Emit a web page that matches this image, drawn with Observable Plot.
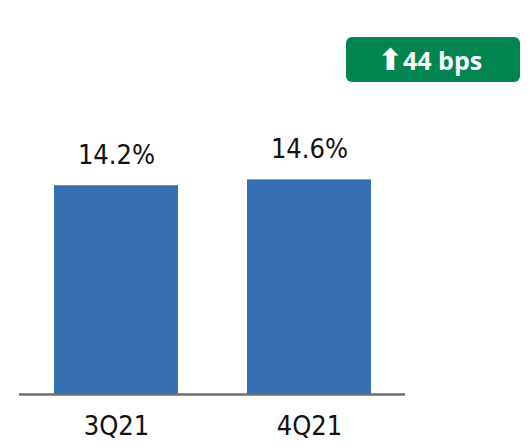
<!DOCTYPE html>
<html>
<head>
<meta charset="utf-8">
<script src="https://cdn.jsdelivr.net/npm/d3@7"></script>
<script src="https://cdn.jsdelivr.net/npm/@observablehq/plot@0.6"></script>
<style>
  html, body { margin: 0; padding: 0; background: #fff; }
  #wrap { position: relative; width: 530px; height: 448px; }
  #badge {
    position: absolute; left: 346px; top: 37px; width: 174px; height: 45px;
    background: #008450; border-radius: 6px; color: #fff;
    display: flex; align-items: center; justify-content: center;
    font-family: "Open Sans", "Liberation Sans", Arial, sans-serif; font-weight: bold; font-size: 25px;
    padding-right: 6px; box-sizing: border-box;
  }
  #badge .arr { font-family: "DejaVu Sans", sans-serif; font-size: 30px; margin-right: 0px; line-height: 1; }
</style>
</head>
<body>
<div id="wrap"></div>
<script>
const categories = ["3Q21", "4Q21"];
const values = [14.2, 14.6];
const valueLabels = ["14.2%", "14.6%"];
const badgeArrow = "⬆";
const badgeText = "44 bps";

const data = categories.map((c, i) => ({cat: c, value: values[i], label: valueLabels[i]}));
const font = "'Liberation Sans Narrow', 'DejaVu Sans Condensed', Roboto, sans-serif";

const chart = Plot.plot({
  width: 530,
  height: 448,
  marginLeft: 19,
  marginRight: 125,
  marginTop: 100,
  marginBottom: 54,
  style: {fontFamily: font, background: "#fff", color: "#111"},
  x: {domain: categories, paddingInner: 0.36, paddingOuter: 0.18, axis: null},
  y: {domain: [0, 20], axis: null},
  marks: [
    Plot.barY(data, {x: "cat", y: "value", fill: "#3670B3"}),
    Plot.ruleY([0], {stroke: "#6e6e6e", strokeWidth: 2.5}),
    Plot.text(data, {x: "cat", y: "value", text: "label", dy: -22, lineAnchor: "bottom", fontSize: 27, fill: "#111"}),
    Plot.axisX({tickSize: 0, tickPadding: 21, fontSize: 27, fill: "#111", label: null})
  ]
});

const wrap = document.getElementById("wrap");
wrap.appendChild(chart);
const badge = document.createElement("div");
badge.id = "badge";
const arr = document.createElement("span");
arr.className = "arr";
arr.textContent = badgeArrow;
const txt = document.createElement("span");
txt.textContent = badgeText;
badge.appendChild(arr);
badge.appendChild(txt);
wrap.appendChild(badge);
</script>
</body>
</html>
